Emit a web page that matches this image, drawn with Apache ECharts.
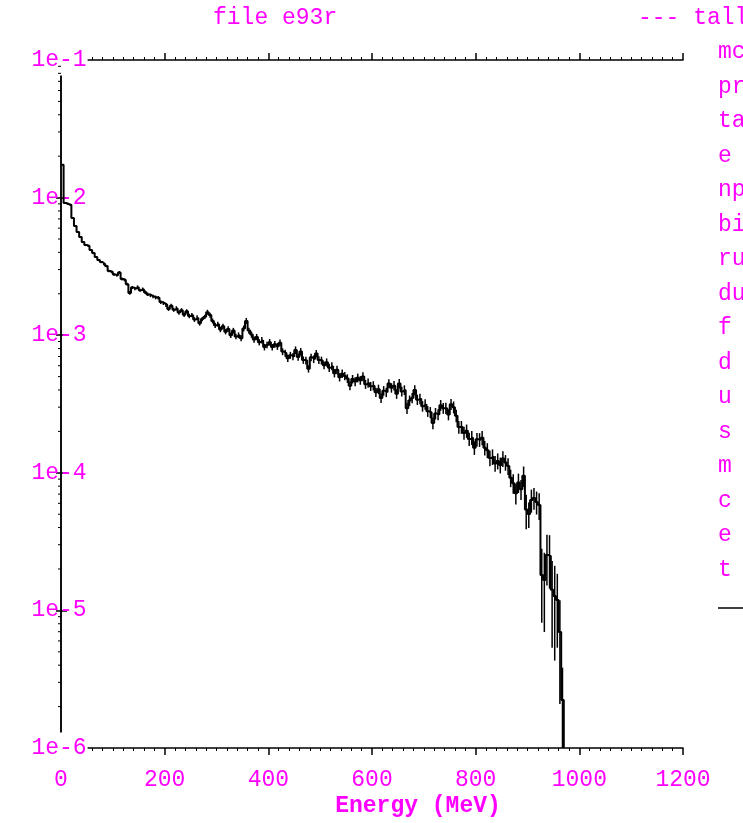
<!DOCTYPE html>
<html>
<head>
<meta charset="utf-8">
<script src="https://cdn.jsdelivr.net/npm/echarts@6/dist/echarts.min.js"></script>
<style>
  html, body { margin: 0; padding: 0; background: #fff; }
  #chart { width: 743px; height: 823px; }
</style>
</head>
<body>
<div id="chart"></div>
<script>
// Tally histogram: 5 MeV energy bins starting at 0 MeV
const binWidth = 5;

// Tally value per bin (0–95, 100–195, ... , 900–965 MeV)
const flux = [
  1.73e-2, 9.14e-3, 8.98e-3, 8.83e-3, 7.11e-3, 6.22e-3, 5.62e-3, 5.17e-3, 4.76e-3, 4.52e-3,
  4.45e-3, 4.16e-3, 3.96e-3, 3.70e-3, 3.52e-3, 3.40e-3, 3.29e-3, 3.18e-3, 2.93e-3, 2.88e-3,
  2.76e-3, 2.72e-3, 2.86e-3, 2.56e-3, 2.52e-3, 2.35e-3, 2.03e-3, 2.22e-3, 2.18e-3, 2.24e-3,
  2.12e-3, 2.16e-3, 2.05e-3, 1.98e-3, 1.95e-3, 1.91e-3, 1.88e-3, 1.87e-3, 1.74e-3, 1.71e-3,
  1.66e-3, 1.55e-3, 1.64e-3, 1.53e-3, 1.57e-3, 1.46e-3, 1.52e-3, 1.41e-3, 1.49e-3, 1.38e-3,
  1.40e-3, 1.30e-3, 1.34e-3, 1.22e-3, 1.31e-3, 1.36e-3, 1.47e-3, 1.40e-3, 1.27e-3, 1.18e-3,
  1.20e-3, 1.10e-3, 1.16e-3, 1.06e-3, 1.11e-3, 1.00e-3, 1.08e-3, 9.80e-4, 1.00e-3, 9.50e-4,
  1.12e-3, 1.27e-3, 1.08e-3, 1.01e-3, 9.30e-4, 9.70e-4, 8.90e-4, 9.20e-4, 8.20e-4, 8.50e-4,
  8.90e-4, 8.20e-4, 8.60e-4, 8.30e-4, 8.80e-4, 7.60e-4, 7.40e-4, 6.80e-4, 7.15e-4, 7.00e-4,
  7.80e-4, 6.95e-4, 7.60e-4, 6.60e-4, 6.55e-4, 5.70e-4, 6.90e-4, 6.70e-4, 7.35e-4, 6.60e-4,
  6.55e-4, 6.05e-4, 6.35e-4, 5.80e-4, 5.95e-4, 5.30e-4, 5.60e-4, 4.95e-4, 5.25e-4, 5.05e-4,
  4.85e-4, 4.30e-4, 4.80e-4, 4.60e-4, 4.90e-4, 4.70e-4, 5.00e-4, 4.40e-4, 4.50e-4, 4.25e-4,
  4.30e-4, 3.85e-4, 4.05e-4, 3.50e-4, 3.95e-4, 3.85e-4, 4.45e-4, 4.15e-4, 4.30e-4, 3.75e-4,
  4.45e-4, 3.90e-4, 4.00e-4, 2.95e-4, 3.35e-4, 3.50e-4, 4.00e-4, 3.40e-4, 3.45e-4, 3.05e-4,
  3.15e-4, 2.80e-4, 2.75e-4, 2.30e-4, 2.70e-4, 2.65e-4, 3.10e-4, 2.95e-4, 2.95e-4, 2.65e-4,
  3.15e-4, 3.00e-4, 2.60e-4, 2.15e-4, 2.15e-4, 1.95e-4, 2.02e-4, 1.76e-4, 1.80e-4, 1.52e-4,
  1.75e-4, 1.74e-4, 1.80e-4, 1.52e-4, 1.46e-4, 1.28e-4, 1.31e-4, 1.17e-4, 1.22e-4, 1.14e-4,
  1.27e-4, 1.19e-4, 1.12e-4, 9.20e-5, 8.40e-5, 7.10e-5, 8.50e-5, 7.60e-5, 9.50e-5, 5.40e-5,
  5.02e-5, 6.34e-5, 6.56e-5, 6.14e-5, 5.83e-5, 1.81e-5, 1.66e-5, 2.53e-5, 2.48e-5, 1.41e-5,
  1.27e-5, 1.19e-5, 6.97e-6, 2.23e-6
];

// Relative statistical error per bin
const relErr = [
  0.011, 0.012, 0.013, 0.012, 0.014, 0.015, 0.014, 0.016, 0.015, 0.017,
  0.016, 0.017, 0.019, 0.018, 0.018, 0.020, 0.019, 0.021, 0.022, 0.020,
  0.022, 0.021, 0.023, 0.025, 0.024, 0.023, 0.031, 0.026, 0.025, 0.027,
  0.026, 0.028, 0.029, 0.027, 0.030, 0.029, 0.031, 0.030, 0.032, 0.031,
  0.033, 0.032, 0.034, 0.033, 0.035, 0.036, 0.034, 0.037, 0.036, 0.038,
  0.037, 0.039, 0.040, 0.038, 0.036, 0.035, 0.041, 0.042, 0.040, 0.043,
  0.042, 0.044, 0.045, 0.043, 0.046, 0.045, 0.047, 0.046, 0.048, 0.050,
  0.049, 0.051, 0.050, 0.052, 0.051, 0.053, 0.052, 0.054, 0.055, 0.053,
  0.055, 0.054, 0.056, 0.057, 0.056, 0.058, 0.059, 0.060, 0.058, 0.061,
  0.062, 0.060, 0.063, 0.062, 0.066, 0.061, 0.063, 0.064, 0.062, 0.065,
  0.066, 0.065, 0.067, 0.068, 0.067, 0.069, 0.070, 0.069, 0.071, 0.070,
  0.072, 0.073, 0.071, 0.074, 0.073, 0.072, 0.074, 0.075, 0.076, 0.075,
  0.077, 0.078, 0.079, 0.083, 0.080, 0.078, 0.077, 0.079, 0.080, 0.081,
  0.079, 0.082, 0.081, 0.092, 0.088, 0.084, 0.083, 0.086, 0.087, 0.088,
  0.089, 0.090, 0.093, 0.098, 0.095, 0.092, 0.090, 0.091, 0.093, 0.092,
  0.091, 0.099, 0.104, 0.106, 0.107, 0.108, 0.110, 0.112, 0.116, 0.113,
  0.112, 0.115, 0.118, 0.121, 0.125, 0.128, 0.130, 0.131, 0.133, 0.132,
  0.131, 0.130, 0.138, 0.145, 0.160, 0.170, 0.160, 0.165, 0.170, 0.280,
  0.210, 0.190, 0.180, 0.190, 0.220, 0.550, 0.580, 0.400, 0.420, 0.620,
  0.660, 0.550, 0.700, 0.720
];

const xTickLabels = ['0', '200', '400', '600', '800', '1000', '1200'];
const yTickLabels = ['1e-6', '1e-5', '1e-4', '1e-3', '1e-2', '1e-1'];
const yMinorMantissas = [2, 3, 4, 5, 6, 7, 8, 9];
const yDecades = [-6, -5, -4, -3, -2];
const legendLines = [
  'mctal = e93r', 'probid = ', 'tally  1', 'e', 'nps = ', 'bin normed',
  'runtpe = ', 'dump ', 'f     1', 'd     1', 'u     1', 's     1',
  'm     1', 'c     1', 'e     *', 't     1'
];

const MAGENTA = '#ff00ff';
const FONT = '"Liberation Mono", "DejaVu Sans Mono", monospace';
const yMin = 1e-6, yMax = 1e-1;

// Step outline: left edge of every bin, then the closing drop at the last upper edge
const stepData = flux.map((v, i) => [i * binWidth, v]);
stepData.push([flux.length * binWidth, yMin]);

// Error bars at bin centres
const errData = flux.map((v, i) => [i * binWidth + binWidth / 2, v * (1 - relErr[i]), v * (1 + relErr[i])]);

// Logarithmic minor ticks (2..9 in every decade) for the left axis
const minorTickData = [];
yDecades.forEach((d) => yMinorMantissas.forEach((m) => minorTickData.push([0, m * Math.pow(10, d)])));

const chart = echarts.init(document.getElementById('chart'), null, { renderer: 'canvas' });

const axisLineStyle = { color: '#000', width: 1.5 };

function yLabel(v) {
  const e = Math.round(Math.log10(v));
  const t = yTickLabels[e + 6];
  if (t === undefined) return '';
  // the end labels sit in the open corners of the frame
  return (e === -1 || e === -6) ? '{edge|' + t + '}' : t;
}

const option = {
  animation: false,
  backgroundColor: '#fff',
  grid: { left: 61, right: 60, top: 60, bottom: 75 },
  xAxis: [
    {
      type: 'value', position: 'bottom', min: 0, max: 1200, interval: 200,
      axisLine: { show: true, lineStyle: axisLineStyle },
      axisTick: { show: true, inside: false, length: 7, lineStyle: { color: '#000', width: 1.5 } },
      minorTick: { show: true, splitNumber: 10, length: 3, lineStyle: { color: '#000', width: 1 } },
      splitLine: { show: false },
      axisLabel: {
        color: MAGENTA, fontFamily: FONT, fontSize: 23, margin: 20,
        formatter: (v) => xTickLabels[Math.round(v / 200)]
      }
    },
    {
      type: 'value', position: 'top', min: 0, max: 1200, interval: 200,
      axisLine: { show: true, lineStyle: axisLineStyle },
      axisTick: { show: true, inside: false, length: 7, lineStyle: { color: '#000', width: 1.5 } },
      minorTick: { show: true, splitNumber: 10, length: 3, lineStyle: { color: '#000', width: 1 } },
      splitLine: { show: false },
      axisLabel: { show: false }
    }
  ],
  yAxis: [
    {
      type: 'log', logBase: 10, position: 'left', min: yMin, max: yMax,
      axisLine: { show: true, lineStyle: axisLineStyle },
      axisTick: { show: true, inside: false, length: 5, lineStyle: { color: '#000', width: 1.5 } },
      minorTick: { show: false },
      splitLine: { show: false },
      axisLabel: {
        color: MAGENTA, fontFamily: FONT, fontSize: 23, align: 'center', margin: 2,
        showMinLabel: true, showMaxLabel: true,
        formatter: yLabel,
        rich: {
          edge: { color: MAGENTA, fontFamily: FONT, fontSize: 23, backgroundColor: '#fff', padding: [4, 1, 4, 1] }
        }
      }
    },
    {
      type: 'log', logBase: 10, position: 'right', min: yMin, max: yMax,
      axisLine: { show: true, lineStyle: axisLineStyle },
      axisTick: { show: true, inside: false, length: 6, lineStyle: { color: '#000', width: 1.5 } },
      splitLine: { show: false },
      axisLabel: { show: false }
    }
  ],
  series: [
    {
      type: 'line',
      xAxisIndex: 0, yAxisIndex: 0,
      step: 'end',
      data: stepData,
      showSymbol: false,
      symbol: 'none',
      lineStyle: { color: '#000', width: 2 },
      z: 3
    },
    {
      type: 'custom',
      xAxisIndex: 0, yAxisIndex: 0,
      data: errData,
      encode: { x: 0, y: [1, 2] },
      renderItem: (params, api) => {
        const x = api.value(0);
        const lo = Math.max(api.value(1), yMin);
        const hi = Math.min(api.value(2), yMax);
        const p1 = api.coord([x, lo]);
        const p2 = api.coord([x, hi]);
        return {
          type: 'line',
          shape: { x1: p1[0], y1: p1[1], x2: p2[0], y2: p2[1] },
          style: { stroke: '#000', lineWidth: 1.5 }
        };
      },
      z: 3
    },
    {
      // minor ticks drawn just outside the left frame edge
      type: 'custom',
      xAxisIndex: 0, yAxisIndex: 0,
      data: minorTickData,
      clip: false,
      silent: true,
      renderItem: (params, api) => {
        const p = api.coord([api.value(0), api.value(1)]);
        return {
          type: 'line',
          shape: { x1: p[0] - 3, y1: p[1], x2: p[0], y2: p[1] },
          style: { stroke: '#000', lineWidth: 1 }
        };
      },
      z: 2
    }
  ],
  graphic: [
    { type: 'text', x: 213, y: 18, style: { text: 'file e93r', font: '23px ' + FONT, fill: MAGENTA, verticalAlign: 'middle' } },
    { type: 'text', x: 638, y: 18, style: { text: '--- tally  1', font: '23px ' + FONT, fill: MAGENTA, verticalAlign: 'middle' } },
    { type: 'text', x: 418, y: 806, style: { text: 'Energy (MeV)', font: 'bold 23px ' + FONT, fill: MAGENTA, align: 'center', verticalAlign: 'middle' } },
    ...legendLines.map((t, i) => ({
      type: 'text', x: 718, y: 52 + i * 34.5,
      style: { text: t, font: '23px ' + FONT, fill: MAGENTA, verticalAlign: 'middle' }
    })),
    { type: 'line', shape: { x1: 718, y1: 608, x2: 760, y2: 608 }, style: { stroke: '#000', lineWidth: 1.5 } }
  ]
};

chart.setOption(option);
</script>
</body>
</html>
